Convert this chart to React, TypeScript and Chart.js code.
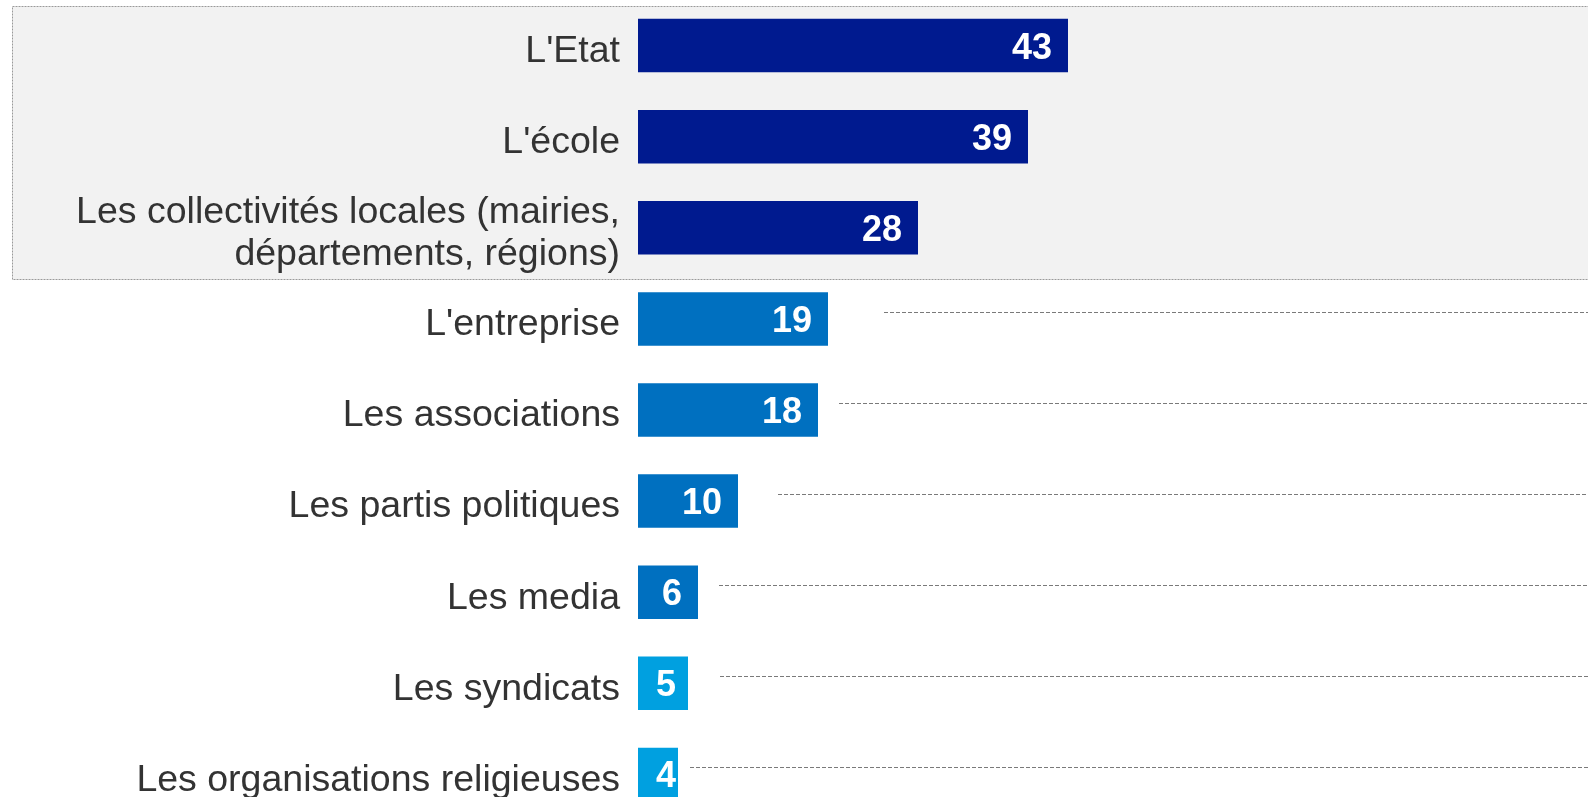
import React, { useEffect, useRef } from "react";
import { Chart, registerables } from "chart.js";

Chart.register(...registerables);

const categories: (string | string[])[] = [
  "L'Etat",
  "L'école",
  ["Les collectivités locales (mairies,", "départements, régions)"],
  "L'entreprise",
  "Les associations",
  "Les partis politiques",
  "Les media",
  "Les syndicats",
  "Les organisations religieuses",
];
const values: number[] = [43, 39, 28, 19, 18, 10, 6, 5, 4];
const barColors: string[] = [
  "#001a8f", "#001a8f", "#001a8f",
  "#0070c0", "#0070c0", "#0070c0", "#0070c0",
  "#00a0e0", "#00a0e0",
];
// where each dotted leader line begins, in value units (null = none)
const leaderStarts: (number | null)[] = [null, null, null, 24.6, 20.1, 14, 8.1, 8.2, 5.2];
// rows covered by the grey highlight box
const highlightRows: number[] = [0, 2];

const FONT = "'Liberation Sans', Arial, sans-serif";

const highlightPlugin = {
  id: "highlightBox",
  beforeDraw(chart: any) {
    const { ctx, scales } = chart;
    const y = scales.y;
    const top = Math.round(y.getPixelForValue(highlightRows[0]) - 40) + 0.5;
    const bottom = Math.round(y.getPixelForValue(highlightRows[1]) + 51) + 0.5;
    const left = 12.5;
    const right = chart.width + 10;
    ctx.save();
    ctx.fillStyle = "#f2f2f2";
    ctx.fillRect(left, top, right - left, bottom - top);
    ctx.strokeStyle = "#9a9a9a";
    ctx.lineWidth = 1;
    ctx.setLineDash([2, 1]);
    ctx.strokeRect(left, top, right - left, bottom - top);
    ctx.restore();
  },
};

const leaderPlugin = {
  id: "leaders",
  beforeDatasetsDraw(chart: any) {
    const { ctx, scales, chartArea } = chart;
    const meta = chart.getDatasetMeta(0);
    ctx.save();
    ctx.strokeStyle = "#7a7a7a";
    ctx.lineWidth = 1;
    ctx.setLineDash([4, 2]);
    leaderStarts.forEach((s, i) => {
      if (s === null) return;
      const el = meta.data[i];
      const yy = Math.round(el.y - 7) + 0.5;
      const x0 = scales.x.getPixelForValue(s);
      ctx.beginPath();
      ctx.moveTo(x0, yy);
      ctx.lineTo(chartArea.right + 5, yy);
      ctx.stroke();
    });
    ctx.restore();
  },
};

const valueLabelPlugin = {
  id: "valueLabels",
  afterDatasetsDraw(chart: any) {
    const { ctx } = chart;
    const meta = chart.getDatasetMeta(0);
    ctx.save();
    ctx.font = `bold 36px ${FONT}`;
    ctx.fillStyle = "#ffffff";
    ctx.textAlign = "left";
    ctx.textBaseline = "alphabetic";
    meta.data.forEach((el: any, i: number) => {
      const txt = String(values[i]);
      const w = ctx.measureText(txt).width;
      let left = el.x - 16 - w;
      const minLeft = el.base + 18;
      if (left < minLeft) left = minLeft;
      ctx.fillText(txt, left, el.y + 13);
    });
    ctx.restore();
  },
};

export default function App() {
  const ref = useRef<HTMLCanvasElement | null>(null);

  useEffect(() => {
    if (!ref.current) return;
    const chart = new Chart(ref.current, {
      type: "bar",
      data: {
        labels: categories,
        datasets: [
          {
            data: values,
            backgroundColor: barColors,
            borderWidth: 0,
            categoryPercentage: 1,
            barPercentage: 0.587,
          },
        ],
      },
      options: {
        indexAxis: "y",
        animation: false,
        responsive: false,
        maintainAspectRatio: false,
        layout: { padding: 0 },
        plugins: {
          legend: { display: false },
          tooltip: { enabled: false },
          title: { display: false },
        },
        scales: {
          x: {
            display: false,
            min: 0,
            max: 95,
          },
          y: {
            offset: true,
            grid: { display: false, drawTicks: false },
            border: { display: false },
            afterFit: (s: any) => {
              s.width = 638;
              s.paddingTop = 0;
              s.paddingBottom = 0;
            },
            ticks: {
              autoSkip: false,
              padding: 18,
              labelOffset: 6,
              color: "#333333",
              font: { family: FONT, size: 37.5, lineHeight: 1.14 },
            },
          },
        },
      },
      plugins: [highlightPlugin, leaderPlugin, valueLabelPlugin],
    });
    return () => chart.destroy();
  }, []);

  return (
    <div
      style={{
        position: "fixed",
        left: 0,
        top: 0,
        width: 1588,
        height: 797,
        overflow: "hidden",
        background: "#ffffff",
      }}
    >
      <canvas ref={ref} width={1588} height={820} style={{ display: "block" }} />
    </div>
  );
}
